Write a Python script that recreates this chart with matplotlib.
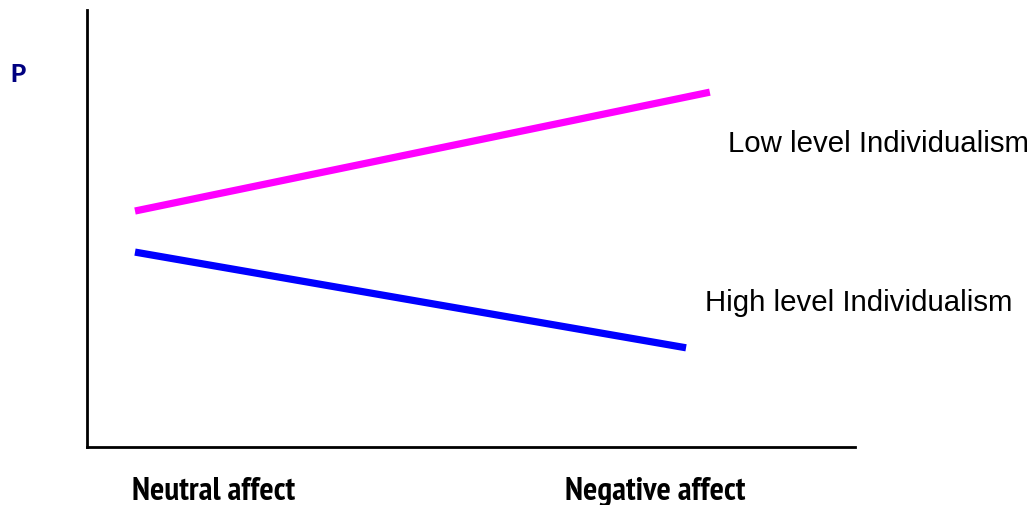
import matplotlib
matplotlib.use("Agg")
import matplotlib.pyplot as plt
from matplotlib import font_manager

categories = ["Neutral affect", "Negative affect"]
series_names = ["Low level Individualism", "High level Individualism"]
low_x = [6.25, 81.1]
low_y = [54.0, 81.2]
high_x = [6.25, 78.0]
high_y = [44.6, 22.7]
y_label = "P"

names = {f.name for f in font_manager.fontManager.ttflist}
def pick(cands, default="DejaVu Sans"):
    for c in cands:
        if c in names:
            return c
    return default

narrow = pick(["Liberation Sans Narrow", "Arial Narrow", "PT Sans Narrow",
               "Archivo Narrow", "Roboto Condensed", "Liberation Sans"])
pfont = pick(["Carlito", "Calibri", "Open Sans"])

fig = plt.figure(figsize=(10.35, 5.05), dpi=100)
ax = fig.add_axes([87/1035, 58/505, 768/1035, 437/505])
ax.set_xlim(0, 100)
ax.set_ylim(0, 100)

ax.plot(low_x, low_y, color="#ff00ff", lw=5.2, solid_capstyle="butt")
ax.plot(high_x, high_y, color="#0000ff", lw=5.2, solid_capstyle="butt")

for s in ["top", "right"]:
    ax.spines[s].set_visible(False)
for s in ["left", "bottom"]:
    ax.spines[s].set_linewidth(2)
    ax.spines[s].set_color("black")
ax.set_xticks([])
ax.set_yticks([])

ax.text(83.4, 69.3, series_names[0], fontsize=21.2, family="Liberation Sans",
        ha="left", va="center", clip_on=False)
ax.text(80.5, 32.9, series_names[1], fontsize=21.2, family="Liberation Sans",
        ha="left", va="center", clip_on=False)

cat_x = [16.5, 74.0]
for cx, c in zip(cat_x, categories):
    ax.text(cx, -10.3, c, fontsize=24, family=narrow, fontweight="bold",
            ha="center", va="center", clip_on=False)

fig.text(18/1035, 1 - 74/505, y_label, fontsize=21, fontweight="bold",
         color="#000080", family=pfont, ha="center", va="center")

fig.savefig("out.png", dpi=100)
